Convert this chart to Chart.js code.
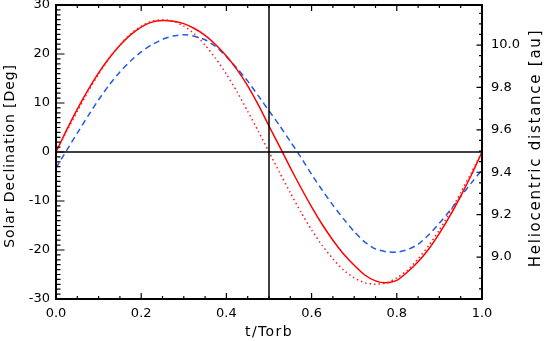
<!DOCTYPE html>
<html>
<head>
<meta charset="utf-8">
<script src="https://cdn.jsdelivr.net/npm/chart.js@4.4.1/dist/chart.umd.min.js"></script>
<style>
  html, body { margin: 0; padding: 0; background: #fff; }
  canvas { display: block; }
</style>
</head>
<body>
<canvas id="chart" width="545" height="341"></canvas>
<script>
// orbital phase t/Torb
const tOrb = [0, 0.025, 0.05, 0.075, 0.1, 0.125, 0.15, 0.175, 0.2, 0.225, 0.25, 0.275, 0.3, 0.325,
  0.35, 0.375, 0.4, 0.425, 0.45, 0.475, 0.5, 0.525, 0.55, 0.575, 0.6, 0.625, 0.65, 0.675, 0.7,
  0.725, 0.75, 0.775, 0.8, 0.825, 0.85, 0.875, 0.9, 0.925, 0.95, 0.975, 1];

// solar declination [deg], solid red
const declSolid = [0, 4.5, 8.75, 12.65, 16.15, 19.2, 21.8, 23.9, 25.5, 26.5, 26.85, 26.7, 26.2,
  25.2, 23.8, 21.9, 19.6, 16.8, 13.5, 9.6, 5.3, 1.1, -3.2, -7.3, -11.2, -14.8, -18.0, -20.8,
  -23.1, -25.1, -26.3, -26.7, -26.2, -24.5, -22.4, -19.8, -16.6, -13.0, -9.0, -4.7, 0];

// solar declination [deg], dotted red
const declDotted = [0, 4.2, 8.3, 12.3, 15.9, 19.1, 21.8, 24.1, 25.7, 26.7, 27.0, 26.7, 25.7, 24.1,
  21.8, 19.1, 15.9, 12.3, 8.3, 4.2, 0, -4.2, -8.3, -12.3, -15.9, -19.1, -21.8, -24.1, -25.7,
  -26.7, -27.0, -26.7, -25.7, -24.1, -21.8, -19.1, -15.9, -12.3, -8.3, -4.2, 0];

// heliocentric distance [au], dashed blue (right axis)
const helioDist = [9.42, 9.503, 9.585, 9.665, 9.742, 9.812, 9.873, 9.925, 9.968, 10.002, 10.027,
  10.043, 10.049, 10.042, 10.025, 9.993, 9.945, 9.89, 9.83, 9.76, 9.69, 9.62, 9.545, 9.47, 9.39,
  9.315, 9.245, 9.18, 9.12, 9.07, 9.038, 9.025, 9.023, 9.035, 9.06, 9.105, 9.16, 9.22, 9.285,
  9.35, 9.41];

const xTicks = [0, 0.2, 0.4, 0.6, 0.8, 1.0];
const declTicks = [-30, -20, -10, 0, 10, 20, 30];
const distTicks = [9.0, 9.2, 9.4, 9.6, 9.8, 10.0];

const FONT = 'DejaVu Sans';

// IDL-style frame: box + inward major/minor ticks on every side
const frameTicks = {
  id: 'frameTicks',
  afterDatasetsDraw(chart) {
    const { ctx, chartArea: a, scales } = chart;
    ctx.save();
    ctx.strokeStyle = '#000';
    ctx.lineWidth = 1.2;
    ctx.beginPath();
    for (let i = 0; i <= 20; i++) {
      const px = scales.x.getPixelForValue(i * 0.05);
      const len = i % 4 === 0 ? 6 : 3;
      ctx.moveTo(px, a.bottom); ctx.lineTo(px, a.bottom - len);
      ctx.moveTo(px, a.top); ctx.lineTo(px, a.top + len);
    }
    for (let v = -30; v <= 30; v++) {
      const py = scales.y.getPixelForValue(v);
      const len = v % 10 === 0 ? 8.5 : 4.5;
      ctx.moveTo(a.left, py); ctx.lineTo(a.left + len, py);
    }
    for (let k = 0; k <= 27; k++) {
      const v = 8.8 + k * 0.05;
      const py = scales.y2.getPixelForValue(v);
      if (py < a.top || py > a.bottom) continue;
      const len = k % 4 === 0 ? 5.5 : 3;
      ctx.moveTo(a.right, py); ctx.lineTo(a.right - len, py);
    }
    ctx.stroke();
    ctx.lineWidth = 2;
    ctx.strokeRect(a.left, a.top, a.width, a.height);
    ctx.restore();
  },
  afterDraw(chart) {
    const { ctx, chartArea: a } = chart;
    ctx.save();
    ctx.fillStyle = '#000';
    ctx.textAlign = 'center';
    ctx.textBaseline = 'middle';

    ctx.font = `14px "${FONT}"`;
    ctx.letterSpacing = '1.4px';
    ctx.fillText('t/Torb', (a.left + a.right) / 2, 332);

    ctx.letterSpacing = '0.9px';
    ctx.save();
    ctx.translate(10, 156);
    ctx.rotate(-Math.PI / 2);
    ctx.fillText('Solar Declination [Deg]', 0, 0);
    ctx.restore();

    ctx.font = `15px "${FONT}"`;
    ctx.letterSpacing = '1.75px';
    ctx.translate(536, 148);
    ctx.rotate(-Math.PI / 2);
    ctx.fillText('Heliocentric distance [au]', 0, 0);
    ctx.restore();
  },
};

const pts = (ys) => tOrb.map((t, i) => ({ x: t, y: ys[i] }));
const noPadV = (w) => (s) => { s.width = w; s.paddingTop = 0; s.paddingBottom = 0; };

new Chart(document.getElementById('chart'), {
  type: 'line',
  data: {
    datasets: [
      { data: [{ x: 0.5, y: -30 }, { x: 0.5, y: 30 }], borderColor: '#000', borderWidth: 1.5 },
      { data: [{ x: 0, y: 0 }, { x: 1, y: 0 }], borderColor: '#000', borderWidth: 1.5 },
      { data: pts(declDotted), borderColor: '#ff1a1a', borderWidth: 1.5, borderDash: [1.5, 3] },
      { data: pts(declSolid), borderColor: '#ff0000', borderWidth: 1.5 },
      { data: pts(helioDist), yAxisID: 'y2', borderColor: '#1f5ce0', borderWidth: 1.5, borderDash: [6, 4] },
    ],
  },
  options: {
    animation: false,
    responsive: false,
    devicePixelRatio: 1,
    layout: { padding: { top: 5, left: 0, right: 0, bottom: 0 } },
    elements: { point: { radius: 0 }, line: { tension: 0.2, fill: false } },
    plugins: { legend: { display: false }, tooltip: { enabled: false } },
    scales: {
      x: {
        type: 'linear', min: 0, max: 1,
        grid: { display: false, drawTicks: false },
        border: { display: false },
        afterBuildTicks: (s) => { s.ticks = xTicks.map((v) => ({ value: v })); },
        afterFit: (s) => { s.height = 42; s.paddingLeft = 0; s.paddingRight = 0; },
        ticks: { color: '#000', padding: 7, maxRotation: 0, font: { family: FONT, size: 13 },
          callback: (v) => Number(v).toFixed(1) },
      },
      y: {
        type: 'linear', position: 'left', min: -30, max: 30,
        grid: { display: false, drawTicks: false },
        border: { display: false },
        afterBuildTicks: (s) => { s.ticks = declTicks.map((v) => ({ value: v })); },
        afterFit: noPadV(56),
        ticks: { color: '#000', padding: 6, font: { family: FONT, size: 13 },
          callback: (v) => String(v) },
      },
      y2: {
        type: 'linear', position: 'right', min: 8.802, max: 10.189,
        grid: { display: false, drawTicks: false },
        border: { display: false },
        afterBuildTicks: (s) => { s.ticks = distTicks.map((v) => ({ value: v })); },
        afterFit: noPadV(63),
        ticks: { color: '#000', padding: 9, font: { family: FONT, size: 13 },
          callback: (v) => Number(v).toFixed(1) },
      },
    },
  },
  plugins: [frameTicks],
});
</script>
</body>
</html>
